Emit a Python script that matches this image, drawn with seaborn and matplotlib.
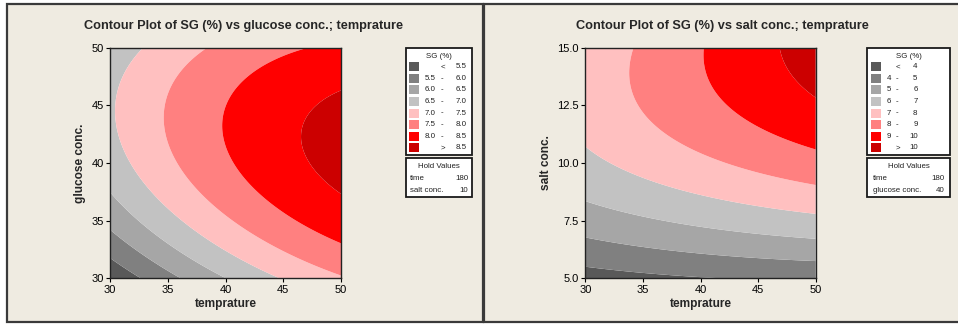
import numpy as np
import matplotlib
matplotlib.use("Agg")
import matplotlib.pyplot as plt
from matplotlib.patches import Rectangle
import seaborn as sns

# ---------------- data ----------------
# Left panel: points lying on contour lines (temprature, glucose conc., SG %)
left_temp = [50, 50, 47.05, 47.6, 48.2,
             46.18, 40.55, 41.1, 41.85, 50, 45.0,
             38.53, 35.2, 35.78, 38.4, 50,
             32.75, 30.5, 30.87, 32.6, 37.8, 44.97,
             30, 40.1, 34.9,
             30, 36.36, 33.2,
             30, 32.75]
left_glucose = [47.05, 37.37, 42.43, 44.6, 40.26,
                50, 43.15, 46.04, 39.1, 33.03, 35.9,
                50, 43.7, 39.1, 34.5, 30.15,
                50, 44.9, 41.4, 37.95, 33.3, 30,
                37.5, 30, 34.2,
                34.2, 30, 32.17,
                31.73, 30]
left_sg = [8.5] * 5 + [8.0] * 6 + [7.5] * 5 + [7.0] * 6 + [6.5] * 3 + [6.0] * 3 + [5.5] * 2

# Right panel: points lying on contour lines (temprature, salt conc., SG %)
right_temp = [30, 39.0,
              30, 40, 50,
              30, 40, 50,
              30, 35, 40, 45, 50,
              34.17, 33.94, 34.6, 40, 45, 50,
              40.3, 40.25, 41.4, 45, 50,
              47.05, 47.8, 50]
right_salt = [5.51, 5.0,
              6.78, 6.16, 5.77,
              8.32, 7.24, 6.71,
              10.71, 9.41, 8.54, 8.11, 7.80,
              15, 13.74, 12.3, 10.71, 9.70, 9.02,
              15, 14.2, 12.73, 11.29, 10.53,
              15, 14.03, 12.88]
right_sg = [4, 4, 5, 5, 5, 6, 6, 6, 7, 7, 7, 7, 7,
            8, 8, 8, 8, 8, 8, 9, 9, 9, 9, 9, 10, 10, 10]

left_levels = [5.5, 6.0, 6.5, 7.0, 7.5, 8.0, 8.5]
right_levels = [4, 5, 6, 7, 8, 9, 10]
left_level_labels = ["5.5", "6.0", "6.5", "7.0", "7.5", "8.0", "8.5"]
right_level_labels = ["4", "5", "6", "7", "8", "9", "10"]

band_colors = ["#595959", "#808080", "#a6a6a6", "#c2c2c2",
               "#ffc0c0", "#ff8080", "#ff0000", "#cc0000"]

left_xticks = [30, 35, 40, 45, 50]
left_yticks = [30, 35, 40, 45, 50]
right_xticks = [30, 35, 40, 45, 50]
right_yticks = [5.0, 7.5, 10.0, 12.5, 15.0]

left_hold = [("time", "180"), ("salt conc.", "10")]
right_hold = [("time", "180"), ("glucose conc.", "40")]

# ---------------- style ----------------
sns.set_style("white")
plt.rcParams["font.family"] = ["Liberation Sans", "DejaVu Sans"]

W, H = 958, 325
BG = "#efebe1"
fig = plt.figure(figsize=(W / 100, H / 100), dpi=100, facecolor="white")


def fx(x):
    return x / W


def fy(y):
    return 1 - y / H


def rect_px(x0, y0, x1, y1, **kw):
    r = Rectangle((fx(x0), fy(y1)), fx(x1) - fx(x0), fy(y0) - fy(y1),
                  transform=fig.transFigure, **kw)
    fig.add_artist(r)
    return r


def text_px(x, y, s, **kw):
    fig.text(fx(x), fy(y), s, **kw)


def fit_surface(x, y, z, xg, yg):
    x = np.asarray(x, float); y = np.asarray(y, float); z = np.asarray(z, float)
    xc, xs = x.mean(), x.std(); yc, ys = y.mean(), y.std()
    u, v = (x - xc) / xs, (y - yc) / ys
    A = np.column_stack([np.ones_like(u), u, v, u * u, v * v, u * v])
    coef, *_ = np.linalg.lstsq(A, z, rcond=None)
    U, V = (xg - xc) / xs, (yg - yc) / ys
    return (coef[0] + coef[1] * U + coef[2] * V + coef[3] * U * U
            + coef[4] * V * V + coef[5] * U * V)


# panel backgrounds and borders
rect_px(6.5, 3.5, 483, 321.5, facecolor=BG, edgecolor="#3a3a3a", lw=1.6, zorder=0)
rect_px(484.5, 3.5, 962, 321.5, facecolor=BG, edgecolor="#3a3a3a", lw=1.6, zorder=0)

FS_LEG = 5.7


def draw_panel(ax_px, title, title_x, tx, ty, tz, ylim, levels, xticks, yticks,
               yfmt, ylabel, ylabel_x, leg_box, leg_cols, labels, hold_box, hold_cols, hold):
    x0, y0, x1, y1 = ax_px
    ax = fig.add_axes([fx(x0), fy(y1), fx(x1) - fx(x0), fy(y0) - fy(y1)])
    xg, yg = np.meshgrid(np.linspace(30, 50, 400), np.linspace(ylim[0], ylim[1], 400))
    zg = fit_surface(tx, ty, tz, xg, yg)
    lv = [-1e3] + list(levels) + [1e3]
    ax.contourf(xg, yg, zg, levels=lv, colors=band_colors, antialiased=True)
    ax.set_xlim(30, 50)
    ax.set_ylim(*ylim)
    ax.set_xticks(xticks)
    ax.set_yticks(yticks)
    ax.set_xticklabels([str(t) for t in xticks])
    ax.set_yticklabels([yfmt.format(t) for t in yticks])
    ax.tick_params(axis="both", direction="out", length=3, width=0.8, colors="black",
                   labelsize=8, pad=1.5, bottom=True, left=True)
    for s in ax.spines.values():
        s.set_color("#222222")
        s.set_linewidth(1.0)
    ax.set_xlabel("")
    ax.set_ylabel("")
    text_px((x0 + x1) / 2, 304, "temprature", ha="center", va="center",
            fontsize=8.6, fontweight="bold")
    text_px(ylabel_x, (y0 + y1) / 2, ylabel, ha="center", va="center",
            rotation=90, fontsize=8.6, fontweight="bold")
    text_px(title_x, 26.5, title, ha="center", va="center", fontsize=9.2, fontweight="bold")

    # legend box
    lx0, ly0, lx1, ly1 = leg_box
    rect_px(lx0, ly0, lx1, ly1, facecolor="white", edgecolor="#1a1a1a", lw=1.3, zorder=1)
    sw0, sw1, cmp_x, low_x, dash_x, high_x = leg_cols
    text_px((lx0 + lx1) / 2, 56, "SG (%)", ha="center", va="center", fontsize=FS_LEG, color="#222222")
    n = len(band_colors)
    for i in range(n):
        cy = 66.7 + i * 11.6
        rect_px(sw0, cy - 4.5, sw1, cy + 4.5, facecolor=band_colors[i], edgecolor="none", zorder=2)
        if i == 0:
            text_px(cmp_x, cy, "<", ha="center", va="center", fontsize=FS_LEG, color="#222222")
            text_px(high_x, cy, labels[0], ha="right", va="center", fontsize=FS_LEG, color="#222222")
        elif i == n - 1:
            text_px(cmp_x, cy, ">", ha="center", va="center", fontsize=FS_LEG, color="#222222")
            text_px(high_x, cy, labels[-1], ha="right", va="center", fontsize=FS_LEG, color="#222222")
        else:
            text_px(low_x, cy, labels[i - 1], ha="left", va="center", fontsize=FS_LEG, color="#222222")
            text_px(dash_x, cy, "-", ha="center", va="center", fontsize=FS_LEG, color="#222222")
            text_px(high_x, cy, labels[i], ha="right", va="center", fontsize=FS_LEG, color="#222222")

    # hold values box
    hx0, hy0, hx1, hy1 = hold_box
    rect_px(hx0, hy0, hx1, hy1, facecolor="white", edgecolor="#1a1a1a", lw=1.3, zorder=1)
    hl, hr = hold_cols
    text_px((hx0 + hx1) / 2, 166, "Hold Values", ha="center", va="center", fontsize=FS_LEG, color="#222222")
    for j, (name, val) in enumerate(hold):
        yy = 178 + j * 12
        text_px(hl, yy, name, ha="left", va="center", fontsize=FS_LEG, color="#222222")
        text_px(hr, yy, val, ha="right", va="center", fontsize=FS_LEG, color="#222222")
    return ax


draw_panel((110, 47.7, 341, 278.3), "Contour Plot of SG (%) vs glucose conc.; temprature", 244,
           left_temp, left_glucose, left_sg, (30, 50), left_levels, left_xticks, left_yticks,
           "{:g}", "glucose conc.", 80,
           (405.7, 47.7, 472.3, 155), (409.3, 419, 443.3, 424.3, 441.7, 466.5), left_level_labels,
           (405.7, 158.3, 472.3, 196.7), (410, 468), left_hold)

draw_panel((585.3, 47.7, 815.7, 278.3), "Contour Plot of SG (%) vs salt conc.; temprature", 722,
           right_temp, right_salt, right_sg, (5, 15), right_levels, right_xticks, right_yticks,
           "{:.1f}", "salt conc.", 545.7,
           (867.3, 47.7, 950, 155), (871, 881, 898.3, 886.5, 896.7, 917.5), right_level_labels,
           (867.3, 158.3, 950, 196.7), (872.7, 945), right_hold)

fig.savefig("out.png", dpi=100, facecolor="white")
